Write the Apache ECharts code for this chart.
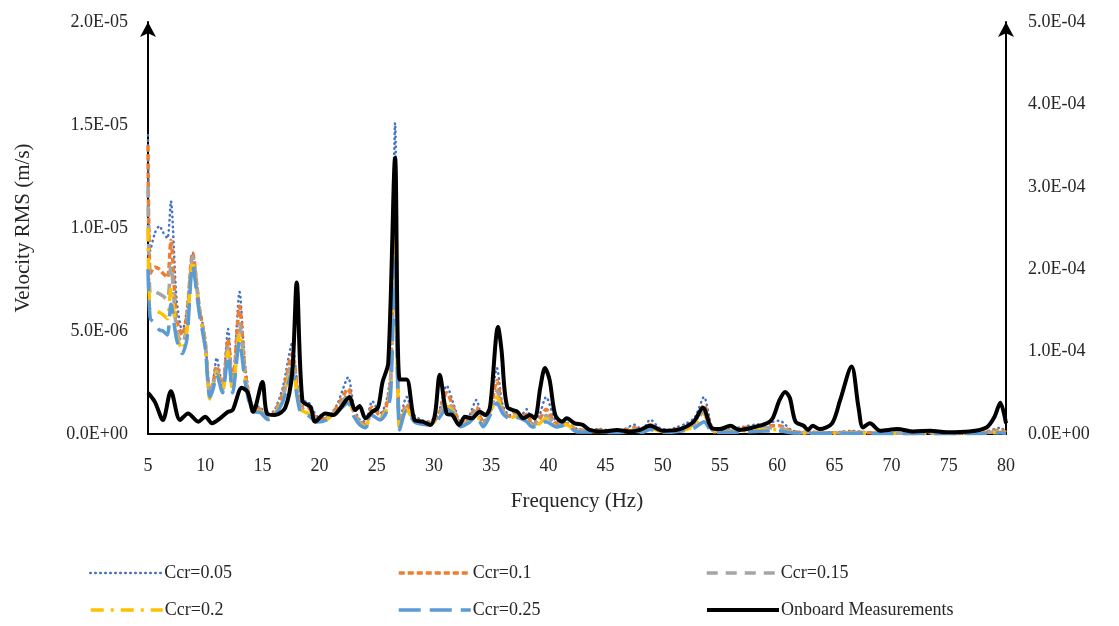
<!DOCTYPE html>
<html>
<head>
<meta charset="utf-8">
<script src="https://cdn.jsdelivr.net/npm/echarts@6/dist/echarts.min.js"></script>
<style>html,body{margin:0;padding:0;background:#fff}#c{width:1119px;height:626px}</style>
</head>
<body>
<div id="c"></div>
<script>
// ---------- DATA ----------
// Simulated velocity RMS (units of 1e-6 m/s), shared frequency grid (Hz)
const SIM_UNIT = 1e-6;
const freqSim = [5.0,5.2,5.6,6.0,6.3,6.7,7.0,7.5,8.0,8.4,8.9,9.5,10.0,10.4,10.7,11.0,11.5,12.0,12.4,13.0,13.5,14.1,14.8,15.5,16.1,16.8,17.6,18.3,19.0,19.8,20.6,21.5,22.5,23.0,23.5,24.0,24.6,25.3,25.8,26.2,26.6,27.0,27.6,28.3,29.4,30.3,31.1,31.8,32.3,33.0,33.7,34.3,34.9,35.5,36.0,36.6,37.1,37.6,38.1,38.6,39.2,39.8,40.7,41.6,42.5,43.5,44.5,45.5,46.5,47.5,48.2,48.9,49.7,50.5,51.3,52.0,52.8,53.6,54.3,55.0,56.0,57.0,58.0,59.0,60.2,61.2,62.0,63.0,64.0,65.0,66.5,68.0,70.0,72.0,74.0,76.0,78.0,79.5,80.0];
const ccr005 = [14.5,8.9,9.75,10.1,9.8,9.5,11.3,6.5,5.0,6.0,8.8,6.2,4.6,2.1,2.6,3.7,2.3,5.1,2.5,6.9,3.3,1.4,1.3,0.9,1.2,2.3,4.4,1.6,1.55,0.85,0.8,1.4,2.75,1.3,0.7,0.6,1.6,1.0,1.5,3.0,15.1,0.5,1.8,0.9,0.6,0.9,2.35,1.3,0.6,0.8,1.65,0.6,1.3,3.2,1.4,0.9,1.2,0.9,1.2,0.5,0.9,1.8,0.6,0.55,0.25,0.2,0.25,0.15,0.2,0.45,0.2,0.7,0.3,0.2,0.35,0.5,0.8,1.8,0.35,0.2,0.25,0.35,0.45,0.5,0.65,0.2,0.1,0.1,0.08,0.08,0.15,0.08,0.06,0.06,0.05,0.05,0.08,0.3,0.1];
const ccr01  = [14.0,7.8,8.1,8.0,7.8,7.6,9.4,5.6,4.8,5.8,8.8,6.1,4.5,2.0,2.5,3.3,2.2,4.6,2.3,6.2,3.0,1.3,1.2,0.85,1.1,2.0,3.9,1.4,1.3,0.75,0.75,1.3,2.2,1.1,0.6,0.5,1.3,0.9,1.3,2.6,12.5,0.4,1.45,0.75,0.55,0.8,2.0,1.15,0.5,0.7,1.3,0.5,1.1,2.6,1.2,0.85,1.0,0.85,0.95,0.45,0.7,1.2,0.5,0.5,0.2,0.18,0.2,0.12,0.15,0.3,0.15,0.45,0.22,0.15,0.25,0.35,0.6,1.4,0.25,0.15,0.18,0.3,0.35,0.4,0.4,0.15,0.08,0.08,0.06,0.06,0.1,0.06,0.05,0.05,0.04,0.04,0.06,0.2,0.08];
const ccr015 = [12.0,6.8,6.9,6.8,6.7,6.5,8.2,5.0,4.4,5.3,8.6,6.0,4.4,1.9,2.4,3.1,2.1,4.2,2.2,5.3,2.8,1.2,1.15,0.8,1.0,1.8,3.5,1.3,1.1,0.68,0.72,1.2,1.9,1.0,0.55,0.4,1.1,0.8,1.2,2.3,10.8,0.3,1.3,0.65,0.5,0.75,1.6,1.05,0.45,0.6,1.1,0.45,1.0,2.1,1.1,0.8,0.9,0.8,0.8,0.4,0.6,0.9,0.42,0.47,0.15,0.15,0.15,0.1,0.12,0.22,0.12,0.35,0.18,0.12,0.2,0.28,0.5,1.1,0.2,0.12,0.14,0.2,0.25,0.3,0.3,0.1,0.06,0.06,0.05,0.05,0.07,0.05,0.04,0.04,0.03,0.03,0.05,0.12,0.06];
const ccr02  = [10.0,6.0,6.0,5.9,5.8,5.6,7.1,4.8,4.1,5.0,8.4,5.9,4.3,1.7,2.3,3.0,2.0,4.0,2.1,4.9,2.6,1.2,1.1,0.75,0.95,1.7,3.2,1.2,1.0,0.62,0.7,1.1,1.7,0.9,0.5,0.35,1.0,0.75,1.1,2.1,9.5,0.25,1.2,0.6,0.47,0.7,1.35,1.0,0.4,0.55,0.95,0.4,0.95,1.8,1.05,0.78,0.85,0.78,0.7,0.37,0.5,0.75,0.38,0.45,0.12,0.12,0.12,0.08,0.1,0.18,0.1,0.28,0.15,0.1,0.15,0.22,0.4,0.9,0.15,0.1,0.1,0.15,0.18,0.22,0.2,0.08,0.05,0.05,0.04,0.04,0.05,0.04,0.03,0.03,0.03,0.03,0.04,0.08,0.05];
const ccr025 = [8.0,5.6,5.4,5.05,5.0,4.8,6.3,4.6,3.9,4.6,8.2,5.8,4.2,1.8,2.2,2.9,2.0,3.8,2.0,4.5,2.5,1.1,1.05,0.7,0.9,1.6,3.0,1.1,0.9,0.58,0.68,1.05,1.5,0.85,0.45,0.3,0.9,0.68,1.0,1.9,8.4,0.2,1.15,0.58,0.44,0.68,1.2,0.95,0.35,0.53,0.85,0.35,0.9,1.5,1.0,0.75,0.8,0.75,0.6,0.34,0.45,0.6,0.34,0.44,0.1,0.1,0.1,0.07,0.08,0.15,0.08,0.22,0.12,0.08,0.12,0.18,0.3,0.6,0.1,0.08,0.08,0.1,0.12,0.15,0.15,0.06,0.04,0.04,0.04,0.04,0.04,0.03,0.03,0.03,0.03,0.03,0.03,0.06,0.04];
// Onboard measurements (units of 1e-4 m/s)
const MEAS_UNIT = 1e-4;
const freqMeas = [5.0,5.6,6.3,7.0,7.8,8.5,9.4,10.0,10.6,11.3,12.0,12.4,13.2,13.7,14.2,15.0,15.4,16.1,17.0,17.6,18.0,18.5,19.2,19.6,20.5,21.2,21.9,22.6,23.1,23.5,24.0,24.6,25.1,25.5,26.0,26.6,27.0,27.6,28.3,29.0,29.7,30.1,30.5,31.1,31.6,32.2,32.7,33.3,34.0,34.5,34.9,35.6,35.9,36.4,37.3,37.8,38.4,38.8,39.3,39.7,40.1,40.6,41.2,41.6,42.3,43.0,43.6,44.8,46.0,47.1,48.0,48.9,50.0,51.5,52.7,53.5,54.3,55.0,55.9,56.7,57.9,59.1,59.6,60.2,60.7,61.1,61.6,62.3,62.7,63.1,63.7,64.8,65.5,66.5,67.1,67.5,68.1,69.0,70.5,71.9,73.4,74.8,76.8,78.3,79.0,79.5,80.0];
const onboard  = [0.50,0.39,0.17,0.52,0.17,0.25,0.15,0.21,0.13,0.19,0.27,0.29,0.56,0.51,0.27,0.63,0.25,0.23,0.32,0.74,1.84,0.40,0.33,0.15,0.25,0.23,0.33,0.45,0.29,0.34,0.19,0.27,0.32,0.63,0.86,3.35,0.66,0.66,0.17,0.15,0.11,0.25,0.72,0.25,0.23,0.11,0.21,0.19,0.27,0.23,0.33,1.30,1.02,0.33,0.27,0.19,0.23,0.19,0.57,0.80,0.66,0.23,0.15,0.19,0.13,0.11,0.05,0.03,0.05,0.03,0.05,0.10,0.04,0.06,0.15,0.32,0.07,0.06,0.10,0.05,0.08,0.13,0.19,0.41,0.51,0.44,0.15,0.10,0.05,0.10,0.06,0.13,0.41,0.82,0.33,0.08,0.13,0.04,0.06,0.03,0.04,0.02,0.03,0.08,0.21,0.38,0.13];
const xTicks = {min: 5, max: 80, step: 5};
const leftTicks = {min: 0, max: 2e-5, step: 5e-6};
const rightTicks = {min: 0, max: 5e-4, step: 1e-4};
const seriesNames = ['Ccr=0.05','Ccr=0.1','Ccr=0.15','Ccr=0.2','Ccr=0.25','Onboard Measurements'];

// ---------- CHART ----------
function sci(v){
  if (Math.abs(v) < 1e-12) return '0.0E+00';
  const s = v.toExponential(1);
  const parts = s.split('e');
  const sign = parts[1][0] === '-' ? '-' : '+';
  const digits = parts[1].replace(/[+-]/,'').padStart(2,'0');
  return parts[0] + 'E' + sign + digits;
}
function pairs(xs, ys, unit){ return xs.map((x,i)=>[x, ys[i]*unit]); }

const FONT = '"Liberation Serif", "Times New Roman", serif';
const TXT = '#262626';
const styles = [
  {color:'#4472C4', width:2.5, type:[0.5,4.5], cap:'round'},
  {color:'#ED7D31', width:3.5, type:[6,3], cap:'butt'},
  {color:'#A5A5A5', width:3.5, type:[11,8], cap:'butt'},
  {color:'#FFC000', width:3.5, type:[13,7,3,7], cap:'butt'},
  {color:'#5B9BD5', width:3.5, type:[22,9], cap:'butt'},
  {color:'#000000', width:4, type:'solid', cap:'butt'}
];
const simData = [ccr005, ccr01, ccr015, ccr02, ccr025];

const series = simData.map((arr,i)=>({
  name: seriesNames[i], type:'line', xAxisIndex:0, yAxisIndex:0,
  data: pairs(freqSim, arr, SIM_UNIT), showSymbol:false, symbol:'none',
  smooth:0.25, z: 2+i,
  lineStyle:{color:styles[i].color, width:styles[i].width, type:styles[i].type, cap:styles[i].cap},
  itemStyle:{color:styles[i].color}
}));
series.push({
  name: seriesNames[5], type:'line', xAxisIndex:0, yAxisIndex:1,
  data: pairs(freqMeas, onboard, MEAS_UNIT), showSymbol:false, symbol:'none',
  smooth:0.3, z: 10,
  lineStyle:{color:styles[5].color, width:styles[5].width}, itemStyle:{color:styles[5].color}
});

// legend slots: [left, top] for each series, 3 columns x 2 rows
const legendSlots = [[84,559],[392,559],[700,559],[84,596],[392,596],[700,596]];
const legends = seriesNames.map((n,i)=>({
  left: legendSlots[i][0], top: legendSlots[i][1], itemWidth:72, itemHeight:16,
  data:[n], selectedMode:false,
  itemStyle:{opacity:0},
  lineStyle:{width:styles[i].width, type:styles[i].type, color:styles[i].color, cap:styles[i].cap},
  textStyle:{fontFamily:FONT, fontSize:18, color:TXT, padding:[0,0,0,-3]}
}));

const option = {
  animation:false,
  backgroundColor:'#fff',
  grid:{left:148, right:113, top:22, bottom:192, containLabel:false},
  legend: legends,
  xAxis:{
    type:'value', min:xTicks.min, max:xTicks.max, interval:xTicks.step,
    name:'Frequency (Hz)', nameLocation:'middle', nameGap:57,
    nameTextStyle:{fontFamily:FONT, fontSize:21, color:TXT},
    axisLine:{show:true, onZero:false, lineStyle:{color:'#000', width:2}},
    axisTick:{show:false}, splitLine:{show:false},
    axisLabel:{fontFamily:FONT, fontSize:18, color:TXT, margin:23}
  },
  yAxis:[
    {
      type:'value', min:leftTicks.min, max:leftTicks.max, interval:leftTicks.step, position:'left',
      name:'Velocity RMS (m/s)', nameLocation:'middle', nameGap:114, nameRotate:90,
      nameTextStyle:{fontFamily:FONT, fontSize:21, color:TXT},
      axisLine:{show:true, symbol:['none','arrow'], symbolSize:[12,15], symbolOffset:[0,0], lineStyle:{color:'#000', width:2}},
      axisTick:{show:false}, splitLine:{show:false},
      axisLabel:{fontFamily:FONT, fontSize:18, color:TXT, margin:20, formatter:sci}
    },
    {
      type:'value', min:rightTicks.min, max:rightTicks.max, interval:rightTicks.step, position:'right',
      axisLine:{show:true, symbol:['none','arrow'], symbolSize:[12,15], symbolOffset:[0,0], lineStyle:{color:'#000', width:2}},
      axisTick:{show:false}, splitLine:{show:false},
      axisLabel:{fontFamily:FONT, fontSize:18, color:TXT, margin:22, formatter:sci}
    }
  ],
  series: series
};
const chart = echarts.init(document.getElementById('c'), null, {renderer:'canvas'});
chart.setOption(option);
</script>
</body>
</html>
